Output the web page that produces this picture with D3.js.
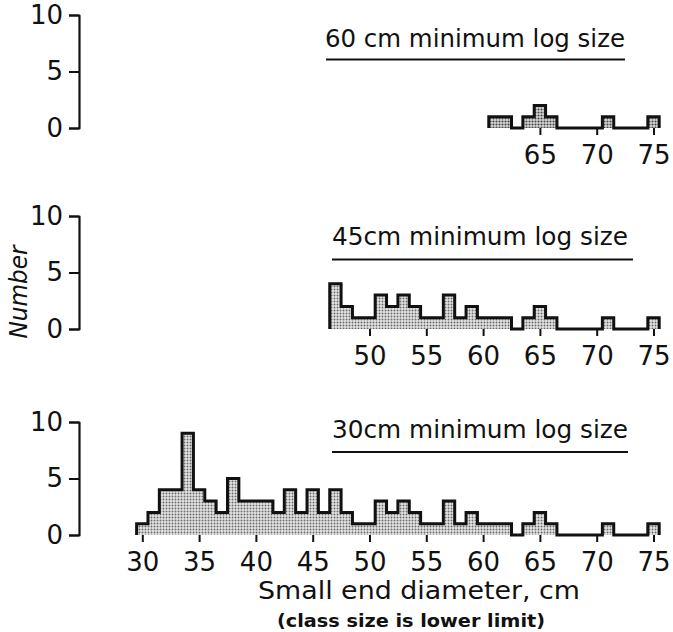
<!DOCTYPE html>
<html>
<head>
<meta charset="utf-8">
<script src="https://cdn.jsdelivr.net/npm/d3@7"></script>
<style>
  body { margin: 0; background: #fff; }
  svg { display: block; }
  text { font-family: "DejaVu Sans", sans-serif; fill: #111; }
</style>
</head>
<body>
<svg id="chart" width="673" height="632"></svg>
<script>
// diameter classes (cm) shown in each panel
const classes30 = [30, 31, 32, 33, 34, 35, 36, 37, 38, 39, 40, 41, 42, 43, 44, 45, 46, 47, 48, 49, 50, 51, 52,
    53, 54, 55, 56, 57, 58, 59, 60, 61, 62, 63, 64, 65, 66, 67, 68, 69, 70, 71, 72, 73, 74, 75];
const counts30 = [1, 2, 4, 4, 9, 4, 3, 2, 5, 3, 3, 3, 2, 4, 2, 4, 2, 4, 2, 1, 1, 3, 2,
    3, 2, 1, 1, 3, 1, 2, 1, 1, 1, 0, 1, 2, 1, 0, 0, 0, 0, 1, 0, 0, 0, 1];

const classes45 = [47, 48, 49, 50, 51, 52, 53, 54, 55, 56, 57, 58, 59, 60, 61, 62, 63, 64, 65, 66, 67, 68, 69,
    70, 71, 72, 73, 74, 75];
const counts45 = [4, 2, 1, 1, 3, 2, 3, 2, 1, 1, 3, 1, 2, 1, 1, 1, 0, 1, 2, 1, 0, 0, 0,
    0, 1, 0, 0, 0, 1];

const classes60 = [61, 62, 63, 64, 65, 66, 67, 68, 69, 70, 71, 72, 73, 74, 75];
const counts60 = [1, 1, 0, 1, 2, 1, 0, 0, 0, 0, 1, 0, 0, 0, 1];

const ticks30 = [30, 35, 40, 45, 50, 55, 60, 65, 70, 75];
const ticks45 = [50, 55, 60, 65, 70, 75];
const ticks60 = [65, 70, 75];
const yTicks = [0, 5, 10];

const titles = ["60 cm minimum log size", "45cm minimum log size", "30cm minimum log size"];

const svg = d3.select("#chart");

const defs = svg.append("defs");
const stipple = (id, bg, dot, r) => {
    const p = defs.append("pattern")
        .attr("id", id)
        .attr("patternUnits", "userSpaceOnUse")
        .attr("width", 3)
        .attr("height", 3);
    p.append("rect").attr("width", 3).attr("height", 3).attr("fill", bg);
    p.append("circle").attr("cx", 1.5).attr("cy", 1.5).attr("r", r).attr("fill", dot);
};
stipple("dots", "#e4e4e4", "#6a6a6a", 0.95);
stipple("dotsDark", "#d8d8d8", "#444", 1.05);

// shared diameter scale
const x = d3.scaleLinear().domain([30, 75]).range([142.3, 653.5]);

const panels = [
    { classes: classes60, counts: counts60, ticks: ticks60, base: 128, fill: "url(#dotsDark)",
      title: titles[0], tx: 325, ty: 47, tw: 300, ly: 59.5, lx1: 326, lx2: 625 },
    { classes: classes45, counts: counts45, ticks: ticks45, base: 329, fill: "url(#dots)",
      title: titles[1], tx: 332, ty: 245, tw: 296, ly: 259.5, lx1: 332, lx2: 633 },
    { classes: classes30, counts: counts30, ticks: ticks30, base: 535, fill: "url(#dots)",
      title: titles[2], tx: 332, ty: 438, tw: 296, ly: 452, lx1: 332, lx2: 628 }
];

panels.forEach(p => {
    const y = d3.scaleLinear().domain([0, 10]).range([p.base, p.base - 113]);
    const g = svg.append("g");

    // step outline points: lower class limit edges
    const pts = [{ e: p.classes[0] - 0.5, c: 0 }];
    p.classes.forEach((v, i) => pts.push({ e: v - 0.5, c: p.counts[i] }));
    const last = p.classes[p.classes.length - 1];
    pts.push({ e: last + 0.5, c: p.counts[p.counts.length - 1] });
    pts.push({ e: last + 0.5, c: 0 });

    g.append("path")
        .datum(pts)
        .attr("fill", p.fill)
        .attr("d", d3.area().x(d => x(d.e)).y0(y(0)).y1(d => y(d.c)).curve(d3.curveStepAfter));

    g.append("path")
        .datum(pts)
        .attr("fill", "none")
        .attr("stroke", "#111")
        .attr("stroke-width", 3)
        .attr("stroke-linejoin", "miter")
        .attr("d", d3.line().x(d => x(d.e)).y(d => y(d.c)).curve(d3.curveStepAfter));

    // x axis ticks
    const xa = g.append("g")
        .attr("transform", `translate(0,${p.base})`)
        .call(d3.axisBottom(x).tickValues(p.ticks).tickSize(7).tickSizeOuter(0).tickPadding(11));
    xa.select(".domain").remove();
    xa.selectAll(".tick line").attr("stroke", "#111").attr("stroke-width", 2);
    xa.selectAll(".tick text")
        .attr("font-size", 26)
        .attr("font-family", "DejaVu Sans, sans-serif")
        .attr("fill", "#111");

    // y axis bracket
    const ya = g.append("g")
        .attr("transform", "translate(79,0)")
        .call(d3.axisLeft(y).tickValues(yTicks).tickSize(10).tickSizeOuter(10).tickPadding(6));
    ya.select(".domain")
        .attr("stroke", "#111")
        .attr("stroke-width", 2.2)
        .attr("stroke-linejoin", "round");
    ya.selectAll(".tick line").attr("stroke", "#111").attr("stroke-width", 2);
    ya.selectAll(".tick text")
        .attr("font-size", 26)
        .attr("font-family", "DejaVu Sans, sans-serif")
        .attr("fill", "#111");

    // panel title with underline
    g.append("text")
        .attr("x", p.tx)
        .attr("y", p.ty)
        .attr("font-size", 24)
        .attr("textLength", p.tw)
        .attr("lengthAdjust", "spacingAndGlyphs")
        .text(p.title);
    g.append("line")
        .attr("x1", p.lx1).attr("x2", p.lx2)
        .attr("y1", p.ly).attr("y2", p.ly)
        .attr("stroke", "#111")
        .attr("stroke-width", 1.8);
});

// axis titles
svg.append("text")
    .attr("transform", "translate(27,292) rotate(-90)")
    .attr("text-anchor", "middle")
    .attr("font-size", 24)
    .attr("font-style", "italic")
    .attr("textLength", 93)
    .attr("lengthAdjust", "spacingAndGlyphs")
    .text("Number");

svg.append("text")
    .attr("x", 258)
    .attr("y", 599)
    .attr("font-size", 25)
    .attr("textLength", 322)
    .attr("lengthAdjust", "spacingAndGlyphs")
    .text("Small end diameter, cm");

svg.append("text")
    .attr("x", 277)
    .attr("y", 627)
    .attr("font-size", 17)
    .attr("font-weight", "bold")
    .attr("textLength", 268)
    .attr("lengthAdjust", "spacingAndGlyphs")
    .text("(class size is lower limit)");
</script>
</body>
</html>
